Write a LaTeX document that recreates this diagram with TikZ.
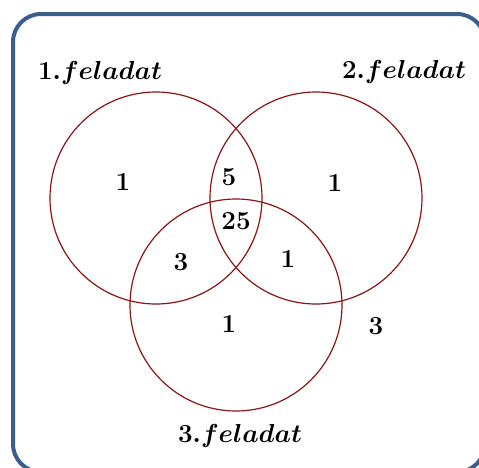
\RequirePackage{fix-cm}
\documentclass[tikz,border=0pt]{standalone}
\usepackage{bm}
\definecolor{framecol}{RGB}{60,94,140}
\definecolor{circcol}{RGB}{140,20,20}
\begin{document}
\begin{tikzpicture}[x=1pt,y=-1pt,
  setc/.style={draw=circcol,line width=1.2pt},
  lbl/.style={font=\fontsize{26}{31}\selectfont\bfseries,inner sep=0pt},
  ttl/.style={font=\fontsize{26}{31}\selectfont,inner sep=0pt}]
\useasboundingbox (0,0) rectangle (479,467);
\begin{scope}
\clip (0,0) rectangle (479,467);
\draw[framecol,line width=4pt,rounded corners=28pt] (13,14) rectangle (485,472);
\end{scope}
\node[setc,circle,minimum size=212pt,inner sep=0pt] (c1) at (156,198) {};
\node[setc,circle,minimum size=212pt,inner sep=0pt] (c2) at (316,198) {};
\node[setc,circle,minimum size=212pt,inner sep=0pt] (c3) at (236,305) {};
\node[ttl] (t1) at (100,73) {$\bm{1.feladat}$};
\node[ttl] (t2) at (404,72) {$\bm{2.feladat}$};
\node[ttl] (t3) at (240,436) {$\bm{3.feladat}$};
\node[lbl] (n1) at (123,182) {1};
\node[lbl] (n2) at (229,177) {5};
\node[lbl] (n3) at (335,183) {1};
\node[lbl] (n4) at (236,221) {25};
\node[lbl] (n5) at (181,262) {3};
\node[lbl] (n6) at (288,259) {1};
\node[lbl] (n7) at (229,324) {1};
\node[lbl] (n8) at (376,326) {3};
\end{tikzpicture}
\end{document}
